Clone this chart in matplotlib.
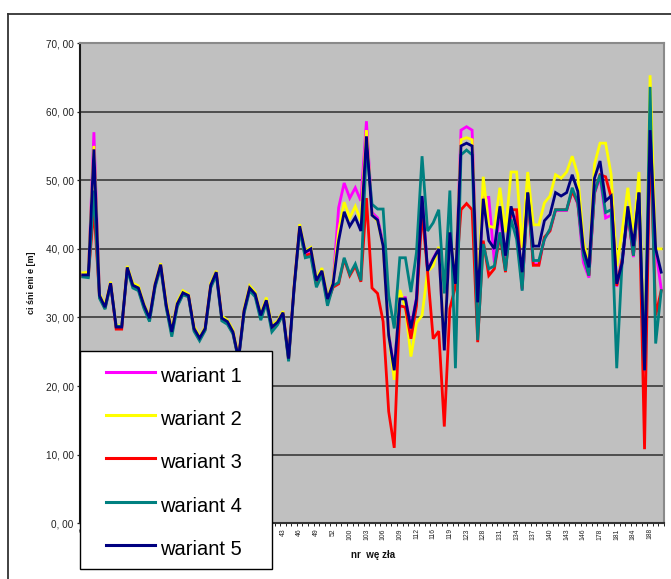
import numpy as np
import matplotlib
matplotlib.use("Agg")
import matplotlib.pyplot as plt
from matplotlib.lines import Line2D
from matplotlib.patches import Rectangle
from matplotlib.ticker import FuncFormatter, FixedLocator

plt.rcParams['font.family'] = ['Liberation Sans', 'DejaVu Sans']

# ---------------- data ----------------
nodes = list(range(7, 53)) + [98, 99, 100, 101, 102, 103, 104, 105, 106, 107, 108, 109, 110, 111,
         112, 113, 115, 116, 117, 118, 119, 120, 122, 123, 125, 126, 128, 129, 130, 131, 132, 133,
         134, 135, 136, 137, 138, 139, 140, 141, 142, 143, 144, 145, 146, 147, 177, 178, 179, 180,
         181, 182, 183, 184, 186, 187, 188, 189, 190]

wariant_1 = [36.3, 36.3, 57.0, 33.3, 31.6, 35.1, 28.7, 28.7, 37.3, 34.8, 34.4, 31.9, 30.0, 34.9, 37.8,
             32.0, 28.0, 32.1, 33.7, 33.3, 28.5, 27.1, 28.5, 34.8, 36.7, 30.0, 29.5, 28.0, 24.1, 31.1,
             34.4, 33.5, 30.4, 32.6, 28.7, 29.4, 30.8, 24.1, 34.6, 43.4, 39.2, 40.0, 35.5, 36.9, 32.8,
             35.0, 46.0, 49.6, 47.4, 48.9, 47.0, 58.6, 45.3, 44.5, 40.8, 27.6, 22.5, 32.9, 32.9, 28.6,
             32.9, 47.5, 36.9, 38.6, 40.1, 25.3, 42.3, 34.8, 57.3, 57.8, 57.3, 32.3, 47.5, 47.5, 38.0,
             45.5, 37.5, 45.0, 44.5, 34.0, 48.0, 37.8, 37.8, 41.5, 42.7, 45.6, 45.6, 45.6, 48.5, 46.5,
             38.0, 35.8, 48.0, 50.5, 44.5, 44.9, 34.5, 38.3, 45.0, 38.8, 48.0, 22.0, 57.0, 40.0, 34.1]

wariant_2 = [36.5, 36.6, 55.0, 33.4, 31.8, 35.2, 28.8, 28.8, 37.5, 35.0, 34.6, 32.0, 30.1, 35.0, 37.9,
             32.3, 28.2, 32.3, 33.9, 33.4, 28.7, 27.2, 28.6, 35.0, 36.8, 30.2, 29.6, 28.2, 24.3, 31.3,
             34.6, 33.7, 30.5, 32.9, 28.9, 29.5, 30.9, 24.2, 34.8, 43.6, 39.7, 40.2, 35.6, 37.2, 32.9,
             35.2, 42.6, 46.8, 44.5, 46.2, 44.1, 57.3, 45.0, 44.0, 40.5, 27.5, 20.9, 34.0, 31.5, 24.3,
             29.2, 30.3, 36.7, 37.5, 40.3, 25.5, 42.5, 35.0, 55.9, 56.2, 55.9, 32.5, 50.5, 43.3, 43.1,
             48.9, 42.4, 51.2, 51.2, 40.2, 51.2, 43.5, 43.5, 46.7, 47.7, 50.8, 50.3, 51.2, 53.5, 50.8,
             41.2, 37.5, 52.3, 55.4, 55.4, 50.8, 37.5, 42.7, 48.9, 41.9, 51.2, 22.5, 65.3, 40.0, 40.0]

wariant_3 = [36.0, 36.0, 46.0, 33.0, 31.3, 34.9, 28.3, 28.3, 37.1, 34.5, 34.1, 31.5, 29.6, 34.6, 37.5,
             31.6, 27.6, 31.8, 33.4, 33.1, 28.2, 26.8, 28.2, 34.5, 36.4, 29.7, 29.2, 27.7, 23.9, 30.8,
             34.1, 33.2, 30.0, 32.3, 28.3, 29.1, 30.5, 23.8, 34.3, 43.0, 39.0, 39.3, 34.8, 36.5, 32.2,
             34.4, 34.9, 38.5, 36.1, 37.5, 35.2, 47.4, 34.3, 33.5, 29.4, 16.3, 11.0, 31.7, 31.5, 26.9,
             31.7, 45.5, 36.6, 26.9, 28.0, 14.1, 31.3, 34.5, 45.7, 46.6, 45.7, 26.4, 41.2, 36.1, 37.1,
             42.0, 36.6, 45.7, 45.7, 34.2, 48.2, 37.6, 37.6, 41.7, 42.6, 45.7, 45.7, 45.7, 48.4, 46.7,
             39.5, 36.1, 48.2, 50.8, 50.5, 47.5, 34.6, 38.6, 45.3, 39.0, 48.2, 10.8, 57.0, 30.3, 33.9]

wariant_4 = [35.9, 35.8, 48.5, 32.8, 31.2, 34.8, 28.7, 28.7, 36.9, 34.3, 33.9, 31.3, 29.4, 34.4, 37.3,
             31.4, 27.2, 31.6, 33.3, 33.0, 28.0, 26.6, 28.1, 34.3, 36.2, 29.5, 29.0, 27.6, 23.8, 30.6,
             33.9, 33.0, 29.6, 32.1, 27.9, 28.9, 30.4, 23.6, 34.2, 42.8, 38.7, 38.9, 34.4, 36.2, 31.7,
             34.6, 35.1, 38.7, 36.3, 37.8, 35.4, 55.0, 46.5, 45.8, 45.8, 33.2, 28.4, 38.7, 38.7, 33.7,
             39.5, 53.5, 42.6, 43.8, 45.7, 33.5, 48.5, 22.6, 53.7, 54.4, 53.7, 26.7, 40.7, 37.1, 37.5,
             42.4, 36.8, 44.3, 41.4, 33.9, 48.2, 38.3, 38.3, 41.4, 42.9, 45.7, 45.7, 45.7, 48.9, 46.7,
             39.0, 36.1, 48.2, 50.8, 45.3, 45.7, 22.6, 38.6, 45.3, 39.0, 48.2, 22.3, 63.6, 26.2, 33.9]

wariant_5 = [36.2, 36.2, 54.5, 33.2, 31.5, 35.0, 28.6, 28.6, 37.3, 34.7, 34.3, 31.8, 29.9, 34.8, 37.7,
             31.8, 27.9, 32.0, 33.6, 33.2, 28.4, 27.0, 28.4, 34.7, 36.6, 29.9, 29.4, 27.9, 24.0, 31.0,
             34.3, 33.4, 30.3, 32.5, 28.6, 29.3, 30.7, 24.0, 34.5, 43.3, 39.5, 40.0, 35.4, 36.8, 32.7,
             34.9, 41.2, 45.4, 43.3, 44.6, 42.6, 56.4, 44.9, 44.2, 40.4, 27.4, 22.3, 32.7, 32.7, 28.4,
             32.7, 47.7, 36.8, 38.5, 40.0, 25.2, 42.4, 34.9, 55.0, 55.4, 55.0, 32.2, 47.3, 41.2, 40.0,
             46.2, 39.0, 46.2, 43.0, 36.6, 48.2, 40.4, 40.4, 44.1, 45.0, 48.2, 47.7, 48.2, 50.8, 48.4,
             40.0, 37.3, 50.3, 52.8, 47.0, 47.7, 34.9, 38.0, 46.2, 40.4, 48.2, 22.3, 57.3, 40.0, 36.6]

series_names = ["wariant 1", "wariant 2", "wariant 3", "wariant 4", "wariant 5"]
series_values = [wariant_1, wariant_2, wariant_3, wariant_4, wariant_5]
series_colors = ["#FF00FF", "#FFFF00", "#FF0000", "#008080", "#000080"]

y_ticks = [0, 10, 20, 30, 40, 50, 60, 70]

# ---------------- figure ----------------
W, H = 671, 579
fig = plt.figure(figsize=(W / 100, H / 100), dpi=100)
fig.patch.set_facecolor("white")

def fx(px):
    return px / W

def fy(py):
    return 1 - py / H

ax = fig.add_axes([fx(80), fy(523.3), fx(664) - fx(80), fy(43) - fy(523.3)])
ax.set_facecolor("#C0C0C0")

x = np.arange(len(nodes))
for vals, col, name in zip(series_values, series_colors, series_names):
    ax.plot(x, vals, color=col, lw=2.0, label=name, solid_joinstyle="miter")

ax.set_xlim(-0.5, len(nodes) - 0.5)
ax.set_ylim(0, 70)

ax.set_axisbelow(True)
ax.yaxis.grid(True, color="#3a3a3a", lw=1.2)
ax.xaxis.grid(False)

ax.set_yticks(y_ticks)
ax.yaxis.set_major_formatter(FuncFormatter(lambda v, p: f"{v:.2f}".replace(".", ", ")))
ax.tick_params(axis="y", direction="out", length=2.5, width=0.9, color="#222222",
               labelsize=7.2, pad=2, labelcolor="#222222")

major = list(range(0, len(nodes), 3))
ax.xaxis.set_major_locator(FixedLocator(major))
ax.set_xticklabels([str(nodes[i]) for i in major], rotation=90, fontsize=4.9)
ax.xaxis.set_minor_locator(FixedLocator(np.arange(-0.5, len(nodes), 1.0)))
ax.tick_params(axis="x", which="major", length=0, pad=3.6, labelcolor="#222222")
ax.tick_params(axis="x", which="minor", direction="out", length=2.2, width=0.7, color="#222222")

ax.spines["left"].set_color("#1a1a1a")
ax.spines["left"].set_linewidth(1.5)
ax.spines["bottom"].set_color("#333333")
ax.spines["bottom"].set_linewidth(1.5)
for s in ("top", "right"):
    ax.spines[s].set_color("#8a8a8a")
    ax.spines[s].set_linewidth(1.5)

# axis titles
fig.text(fx(31), fy(283), "ci śni eni e [m]", rotation=90, ha="center", va="center",
         fontsize=6.5, fontweight="bold", color="#111111")
fig.text(fx(373), fy(555), "nr  wę zła", ha="center", va="center",
         fontsize=7, fontweight="bold", color="#111111")

# outer chart frame (clipped by image edge at right/bottom)
fig.add_artist(Line2D([fx(8), fx(8)], [0, fy(14)], transform=fig.transFigure,
                      color="#333333", lw=1.3))
fig.add_artist(Line2D([fx(8), 1.0], [fy(14), fy(14)], transform=fig.transFigure,
                      color="#333333", lw=1.3))

# legend box
fig.add_artist(Rectangle((fx(80), fy(569)), fx(272) - fx(80), fy(351) - fy(569),
                         transform=fig.transFigure, facecolor="white", edgecolor="black",
                         lw=1.0, zorder=5))
for k, (name, col) in enumerate(zip(series_names, series_colors)):
    ly = 371.7 + k * 43.3
    fig.add_artist(Line2D([fx(106), fx(155)], [fy(ly), fy(ly)], transform=fig.transFigure,
                          color=col, lw=2.2, zorder=6))
    fig.text(fx(160), fy(ly + 10), name, ha="left", va="baseline", fontsize=14.5,
             color="black", zorder=7)

fig.savefig("out.png", dpi=100)
